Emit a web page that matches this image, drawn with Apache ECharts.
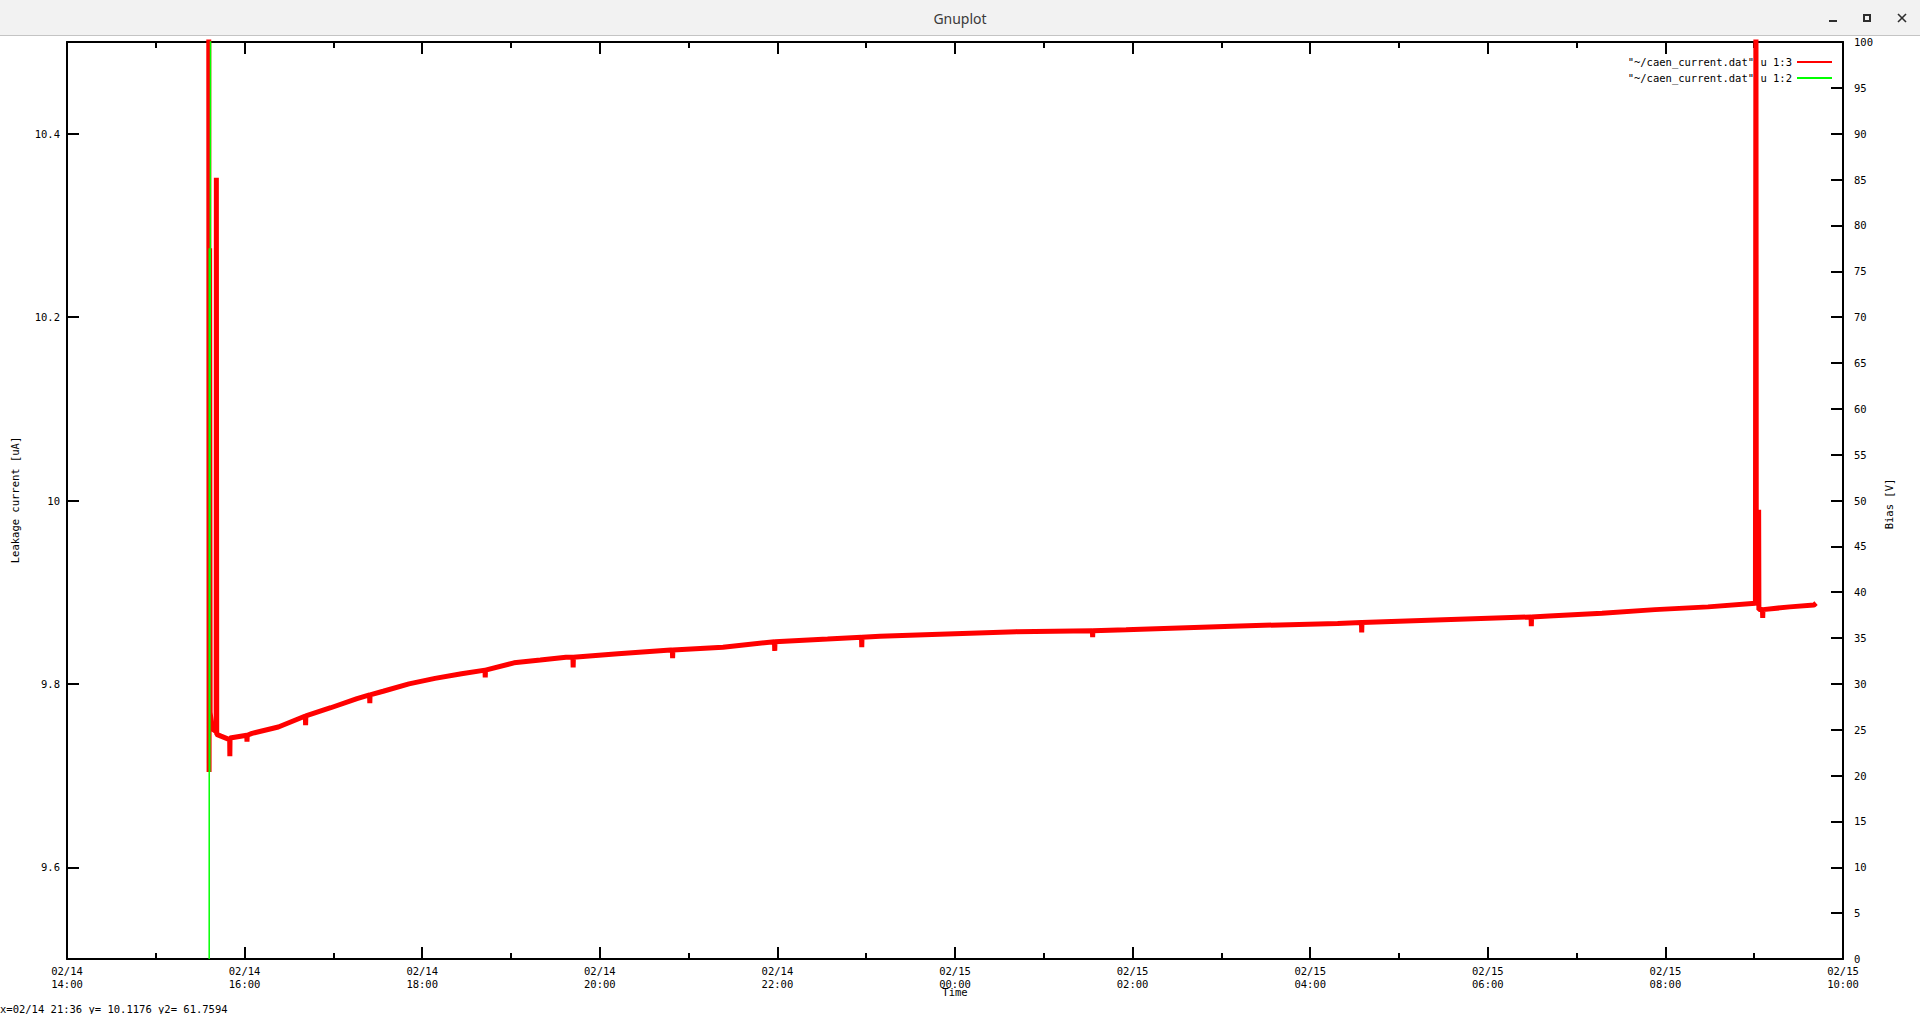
<!DOCTYPE html>
<html>
<head>
<meta charset="utf-8">
<title>Gnuplot</title>
<script src="https://cdn.jsdelivr.net/npm/echarts@6.0.0/dist/echarts.min.js"></script>
<style>
html,body{margin:0;padding:0;background:#fff;overflow:hidden}
#chart{width:1920px;height:1014px}
</style>
</head>
<body>
<div id="chart"></div>
<script>
// ---------------- data ----------------
const windowTitle = 'Gnuplot';
const xAxisTitle = 'Time';
const yAxisTitle = 'Leakage current [uA]';
const y2AxisTitle = 'Bias [V]';
const statusText = 'x=02/14 21:36 y= 10.1176 y2= 61.7594';
const seriesNames = ['"~/caen_current.dat" u 1:3', '"~/caen_current.dat" u 1:2'];
const xTickLabels = [
  '02/14\n14:00', '02/14\n16:00', '02/14\n18:00', '02/14\n20:00', '02/14\n22:00', '02/15\n00:00',
  '02/15\n02:00', '02/15\n04:00', '02/15\n06:00', '02/15\n08:00', '02/15\n10:00'
];
const xStart = '02/14 14:00:00';
const xEnd = '02/15 10:00:00';

// column 3: leakage current [uA]
const redTimes = [
  '02/14 15:35:46', '02/14 15:36:00', '02/14 15:36:22', '02/14 15:36:43', '02/14 15:37:41',
  '02/14 15:38:53', '02/14 15:40:48', '02/14 15:40:55', '02/14 15:41:10', '02/14 15:44:02',
  '02/14 15:48:36', '02/14 15:49:55', '02/14 15:50:02', '02/14 15:50:10', '02/14 16:01:27',
  '02/14 16:01:37', '02/14 16:01:47', '02/14 16:05:00', '02/14 16:22:48', '02/14 16:41:03',
  '02/14 16:41:13', '02/14 16:41:23', '02/14 16:58:12', '02/14 17:15:58', '02/14 17:24:26',
  '02/14 17:24:36', '02/14 17:24:46', '02/14 17:33:36', '02/14 17:51:04', '02/14 18:08:38',
  '02/14 18:26:35', '02/14 18:42:26', '02/14 18:42:36', '02/14 18:42:46', '02/14 19:02:02',
  '02/14 19:19:48', '02/14 19:37:08', '02/14 19:41:50', '02/14 19:42:00', '02/14 19:42:10',
  '02/14 20:12:18', '02/14 20:47:53', '02/14 20:49:02', '02/14 20:49:12', '02/14 20:49:22',
  '02/14 21:23:13', '02/14 21:58:02', '02/14 21:58:12', '02/14 21:58:23', '02/14 22:33:54',
  '02/14 22:56:50', '02/14 22:57:00', '02/14 22:57:10', '02/14 23:09:18', '02/14 23:44:28',
  '02/15 00:41:13', '02/15 01:32:50', '02/15 01:33:00', '02/15 01:33:10', '02/15 01:55:34',
  '02/15 03:07:08', '02/15 04:18:32', '02/15 04:34:38', '02/15 04:34:48', '02/15 04:34:58',
  '02/15 05:30:04', '02/15 06:29:14', '02/15 06:29:24', '02/15 06:29:34', '02/15 06:41:20',
  '02/15 07:17:10', '02/15 07:52:59', '02/15 08:28:48', '02/15 09:00:50', '02/15 09:01:10',
  '02/15 09:01:25', '02/15 09:02:55', '02/15 09:03:00', '02/15 09:03:10', '02/15 09:04:37',
  '02/15 09:05:35', '02/15 09:05:45', '02/15 09:05:55', '02/15 09:24:00', '02/15 09:40:23',
  '02/15 09:41:46'
];
const redValues = [
  10.62, 9.704, 10.275, 9.769, 9.755,
  9.750, 9.748, 10.352, 9.745, 9.743,
  9.740, 9.740, 9.721, 9.741, 9.744,
  9.737, 9.744, 9.746, 9.753, 9.765,
  9.755, 9.765, 9.774, 9.784, 9.788,
  9.779, 9.788, 9.792, 9.800, 9.806,
  9.811, 9.815, 9.807, 9.815, 9.823,
  9.826, 9.829, 9.829, 9.818, 9.829,
  9.833, 9.837, 9.837, 9.828, 9.837,
  9.840, 9.846, 9.836, 9.846, 9.849,
  9.851, 9.840, 9.851, 9.852, 9.854,
  9.857, 9.858, 9.851, 9.858, 9.859,
  9.863, 9.866, 9.867, 9.856, 9.867,
  9.870, 9.873, 9.863, 9.873, 9.874,
  9.877, 9.881, 9.884, 9.888, 10.62,
  9.887, 9.888, 9.990, 9.881, 9.881,
  9.881, 9.872, 9.881, 9.884, 9.886,
  9.888
];

// column 2: bias [V]
const greenTimes = ['02/14 15:36:05', '02/14 15:36:08', '02/14 15:36:30', '02/14 15:37:20', '02/15 09:41:46'];
const greenValues = [0, 77.5, 20.4, 160, 160];

// ---------------- helpers ----------------
function toHours(s) {
  const [d, t] = s.split(' ');
  const [mo, da] = d.split('/').map(Number);
  const [hh, mm, ss] = t.split(':').map(Number);
  return (da - 14) * 24 + (hh - 14) + mm / 60 + (ss || 0) / 3600;
}
const MONO = '"DejaVu Sans Mono", monospace';
const FS = 10.5;
const BLACK = '#000000';
const xMin = toHours(xStart), xMax = toHours(xEnd);

const redData = redTimes.map((t, i) => [toHours(t), redValues[i]]);
const greenData = greenTimes.map((t, i) => [toHours(t), greenValues[i]]);

function xAxisCfg(pos, showLabel) {
  return {
    type: 'value', position: pos, min: xMin, max: xMax, interval: 2,
    axisLine: { show: true, onZero: false, lineStyle: { color: BLACK, width: 2 } },
    axisTick: { show: true, inside: true, length: 12, lineStyle: { color: BLACK, width: 2 } },
    minorTick: { show: true, splitNumber: 2, length: 6, lineStyle: { color: BLACK, width: 2 } },
    splitLine: { show: false }, minorSplitLine: { show: false },
    axisLabel: {
      show: showLabel, margin: 6, color: BLACK, fontFamily: MONO, fontSize: FS, lineHeight: 12.5,
      showMinLabel: true, showMaxLabel: true, hideOverlap: false,
      formatter: v => xTickLabels[Math.round((v - xMin) / 2)] || ''
    }
  };
}

const chart = echarts.init(document.getElementById('chart'), null, { renderer: 'svg', width: 1920, height: 1014 });
const option = {
  animation: false,
  backgroundColor: '#ffffff',
  textStyle: { fontFamily: MONO },
  grid: { left: 67, right: 77, top: 42, bottom: 55, containLabel: false, outerBoundsMode: 'none' },
  legend: {
    show: true, orient: 'vertical', align: 'right', right: 88, top: 56,
    itemWidth: 35, itemHeight: 2, itemGap: 4, icon: 'rect', selectedMode: false,
    padding: 0,
    textStyle: { color: BLACK, fontFamily: MONO, fontSize: FS, lineHeight: 12 },
    data: seriesNames
  },
  xAxis: [xAxisCfg('bottom', true), xAxisCfg('top', false)],
  yAxis: [
    {
      type: 'value', position: 'left', min: 9.5, max: 10.5, splitNumber: 5,
      axisLine: { show: true, onZero: false, lineStyle: { color: BLACK, width: 2 } },
      axisTick: { show: true, inside: true, length: 12, lineStyle: { color: BLACK, width: 2 } },
      splitLine: { show: false },
      axisLabel: { margin: 7, color: BLACK, fontFamily: MONO, fontSize: FS, showMinLabel: false, showMaxLabel: false }
    },
    {
      type: 'value', position: 'right', min: 0, max: 100, interval: 5,
      axisLine: { show: true, onZero: false, lineStyle: { color: BLACK, width: 2 } },
      axisTick: { show: true, inside: true, length: 12, lineStyle: { color: BLACK, width: 2 } },
      splitLine: { show: false },
      axisLabel: { margin: 11, color: BLACK, fontFamily: MONO, fontSize: FS, showMinLabel: true, showMaxLabel: true, hideOverlap: false }
    }
  ],
  series: [
    {
      name: seriesNames[0], type: 'line', xAxisIndex: 0, yAxisIndex: 0, data: redData,
      showSymbol: false, symbol: 'none', clip: true, silent: true, sampling: 'none',
      lineStyle: { color: '#ff0000', width: 5, join: 'bevel' }, itemStyle: { color: '#ff0000' },
      emphasis: { disabled: true }, z: 3
    },
    {
      name: seriesNames[1], type: 'line', xAxisIndex: 0, yAxisIndex: 1, data: greenData,
      showSymbol: false, symbol: 'none', clip: true, silent: true,
      lineStyle: { color: '#00ff00', width: 1.5 }, itemStyle: { color: '#00ff00' },
      emphasis: { disabled: true }, z: 4
    }
  ],
  graphic: [
    { type: 'rect', shape: { x: 0, y: 0, width: 1920, height: 35 }, style: { fill: '#f2f2f2' }, silent: true, z: 10 },
    { type: 'rect', shape: { x: 0, y: 35, width: 1920, height: 1 }, style: { fill: '#c4c4c4' }, silent: true, z: 10 },
    { type: 'text', x: 960, y: 18, silent: true, z: 11,
      style: { text: windowTitle, font: '14px "Noto Sans"', fill: '#3a3a3a', align: 'center', verticalAlign: 'middle', textAlign: 'center', textVerticalAlign: 'middle' } },
    { type: 'rect', shape: { x: 1829, y: 20, width: 8, height: 2 }, style: { fill: '#2e2e2e' }, silent: true, z: 11 },
    { type: 'rect', shape: { x: 1864, y: 15, width: 6, height: 6 }, style: { fill: 'none', stroke: '#2e2e2e', lineWidth: 2 }, silent: true, z: 11 },
    { type: 'line', shape: { x1: 1898, y1: 14, x2: 1906, y2: 22 }, style: { stroke: '#2e2e2e', lineWidth: 1.6 }, silent: true, z: 11 },
    { type: 'line', shape: { x1: 1906, y1: 14, x2: 1898, y2: 22 }, style: { stroke: '#2e2e2e', lineWidth: 1.6 }, silent: true, z: 11 },
    { type: 'text', x: 15, y: 500, rotation: Math.PI / 2, silent: true,
      style: { text: yAxisTitle, font: FS + 'px ' + MONO, fill: BLACK, align: 'center', verticalAlign: 'middle', textAlign: 'center', textVerticalAlign: 'middle' } },
    { type: 'text', x: 1889, y: 504, rotation: Math.PI / 2, silent: true,
      style: { text: y2AxisTitle, font: FS + 'px ' + MONO, fill: BLACK, align: 'center', verticalAlign: 'middle', textAlign: 'center', textVerticalAlign: 'middle' } },
    { type: 'text', x: 955, y: 992, silent: true,
      style: { text: xAxisTitle, font: FS + 'px ' + MONO, fill: BLACK, align: 'center', verticalAlign: 'middle', textAlign: 'center', textVerticalAlign: 'middle' } },
    { type: 'text', x: 0, y: 1009, silent: true,
      style: { text: statusText, font: FS + 'px ' + MONO, fill: BLACK, align: 'left', verticalAlign: 'middle', textAlign: 'left', textVerticalAlign: 'middle' } }
  ]
};
chart.setOption(option);
</script>
</body>
</html>
